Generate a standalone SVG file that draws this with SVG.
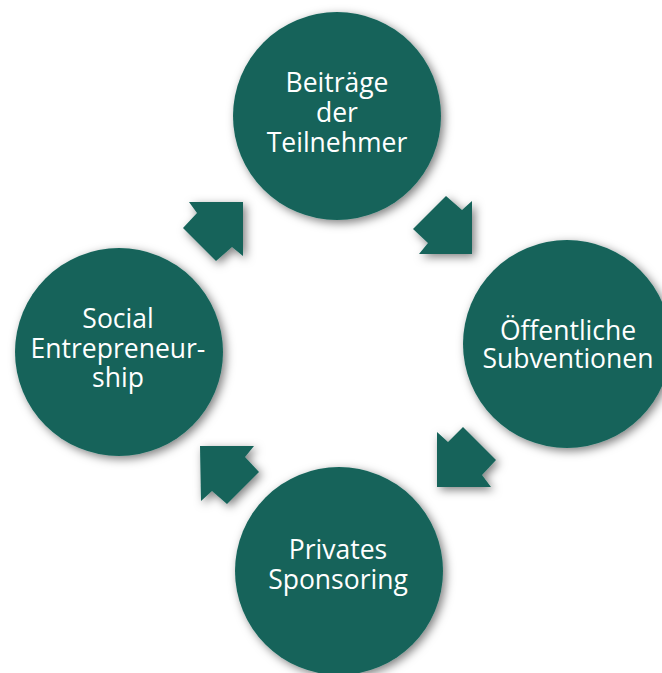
<svg xmlns="http://www.w3.org/2000/svg" width="662" height="673" viewBox="0 0 662 673">
<defs>
<filter id="sh" x="-30%" y="-30%" width="160%" height="160%">
<feDropShadow dx="3" dy="3" stdDeviation="5" flood-color="#000" flood-opacity="0.5"/>
</filter>
<style>
.n{fill:#14645a;filter:url(#sh)}
.a{fill:#14645a;filter:url(#sh)}
.t{font-family:"Open Sans","Noto Sans",sans-serif;font-size:26.5px;fill:#fff;text-anchor:middle}
</style>
</defs>
<rect width="662" height="673" fill="#fff"/>
<g id="connectors">
<polygon class="a" points="243,202 189,202 197,213 183,228 216,261 232,247 243,256"/>
<polygon class="a" points="446,196 462,210 472,201 472,254 419,254 428,243 413,229"/>
<polygon class="a" points="437,432 448,442 463,427 496,460 482,475 491,487 437,487"/>
<polygon class="a" points="200,446 254,446 245,457 259,472 227,504 212,491 201,501"/>
</g>
<g id="node-top">
<circle class="n" cx="337" cy="116" r="104"/>
<text class="t" x="337" y="92">Beiträge</text>
<text class="t" x="337" y="122">der</text>
<text class="t" x="337" y="152">Teilnehmer</text>
</g>
<g id="node-right">
<circle class="n" cx="567" cy="344" r="104"/>
<text class="t" x="568" y="340">Öffentliche</text>
<text class="t" x="568" y="368">Subventionen</text>
</g>
<g id="node-bottom">
<circle class="n" cx="339" cy="571" r="104"/>
<text class="t" x="338" y="559">Privates</text>
<text class="t" x="338" y="589">Sponsoring</text>
</g>
<g id="node-left">
<circle class="n" cx="119" cy="352" r="104"/>
<text class="t" x="118" y="328">Social</text>
<text class="t" x="118" y="358">Entrepreneur-</text>
<text class="t" x="118" y="387">ship</text>
</g>
</svg>
